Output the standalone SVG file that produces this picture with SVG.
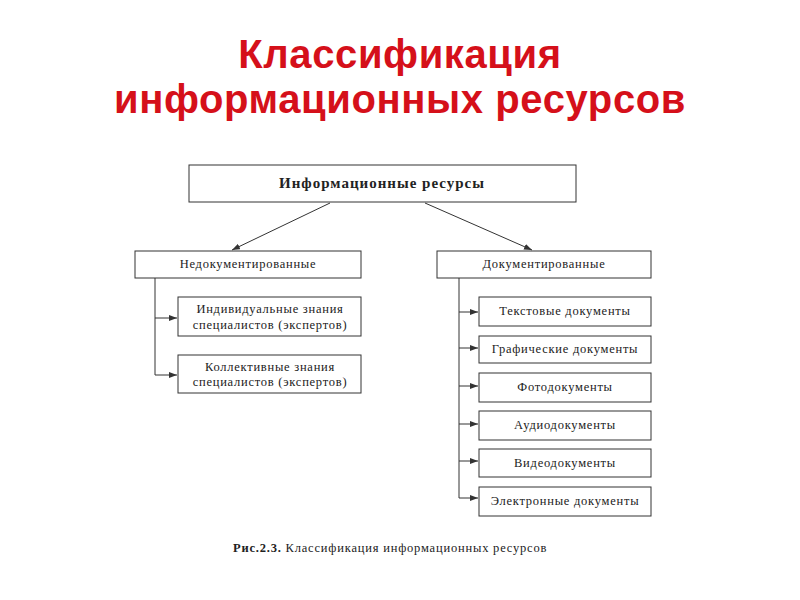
<svg xmlns="http://www.w3.org/2000/svg" width="800" height="600" viewBox="0 0 800 600">
<style>
.t{font-family:"Liberation Sans",Arial,sans-serif;font-weight:bold;font-size:40px;fill:#d5101a;text-anchor:middle;letter-spacing:0.6px}
.b{fill:#fff;stroke:#333;stroke-width:1}
.s{font-family:"Liberation Serif","Times New Roman",serif;font-size:12.5px;fill:#222;text-anchor:middle;letter-spacing:0.75px}
.c{stroke:#333;stroke-width:1;fill:none}
</style>
<defs><marker id="a" markerWidth="8" markerHeight="6" refX="8" refY="3" orient="auto"><path d="M0,0L8,3L0,6z" fill="#333"/></marker></defs>
<rect width="800" height="600" fill="#fff"/>
<text class="t" x="400" y="68">Классификация</text>
<text class="t" x="400" y="113">информационных ресурсов</text>
<g id="root"><rect class="b" x="189" y="165" width="387" height="37"/><text class="s" x="382" y="188" style="font-weight:bold;font-size:15px;letter-spacing:1px">Информационные ресурсы</text></g>
<g id="undoc"><rect class="b" x="135" y="251" width="226" height="27"/><text class="s" x="248" y="268">Недокументированные</text></g>
<g id="doc"><rect class="b" x="437" y="251" width="214" height="27"/><text class="s" x="544" y="268">Документированные</text></g>
<g id="ind"><rect class="b" x="178" y="297" width="183" height="39"/><text class="s" x="270" y="313">Индивидуальные знания</text><text class="s" x="270" y="329">специалистов (экспертов)</text></g>
<g id="col"><rect class="b" x="178" y="355" width="183" height="38"/><text class="s" x="270" y="371">Коллективные знания</text><text class="s" x="270" y="386">специалистов (экспертов)</text></g>
<g id="d1"><rect class="b" x="479" y="297" width="172" height="29"/><text class="s" x="565" y="315">Текстовые документы</text></g>
<g id="d2"><rect class="b" x="479" y="336" width="172" height="27"/><text class="s" x="565" y="353">Графические документы</text></g>
<g id="d3"><rect class="b" x="479" y="373" width="172" height="29"/><text class="s" x="565" y="391">Фотодокументы</text></g>
<g id="d4"><rect class="b" x="479" y="411" width="172" height="29"/><text class="s" x="565" y="429">Аудиодокументы</text></g>
<g id="d5"><rect class="b" x="479" y="449" width="172" height="28"/><text class="s" x="565" y="467">Видеодокументы</text></g>
<g id="d6"><rect class="b" x="479" y="487" width="172" height="29"/><text class="s" x="565" y="505">Электронные документы</text></g>
<g id="connectors" class="c">
<path class="c" d="M330,203L232,250" marker-end="url(#a)"/>
<path class="c" d="M425,203L532,250" marker-end="url(#a)"/>
<path class="c" d="M155,278V375"/>
<path class="c" d="M155,318H177" marker-end="url(#a)"/>
<path class="c" d="M155,375H177" marker-end="url(#a)"/>
<path class="c" d="M459,278V498"/>
<path class="c" d="M459,312H478" marker-end="url(#a)"/>
<path class="c" d="M459,348H478" marker-end="url(#a)"/>
<path class="c" d="M459,386H478" marker-end="url(#a)"/>
<path class="c" d="M459,424H478" marker-end="url(#a)"/>
<path class="c" d="M459,461H478" marker-end="url(#a)"/>
<path class="c" d="M459,498H478" marker-end="url(#a)"/>
</g>
<text x="233" y="552" style="font-family:'Liberation Serif',serif;font-size:12.5px;fill:#222;letter-spacing:0.8px"><tspan font-weight="bold">Рис.2.3.</tspan> Классификация информационных ресурсов</text>
</svg>
